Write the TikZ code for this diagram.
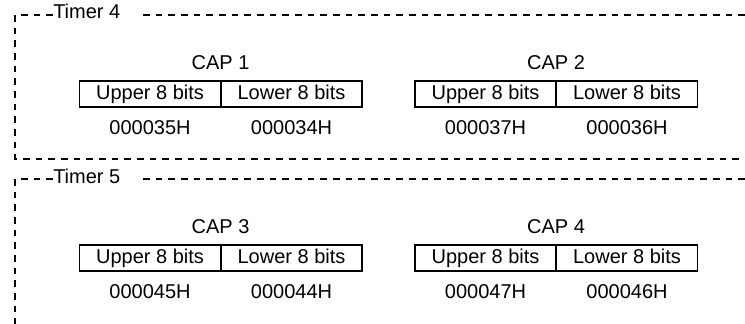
\documentclass[tikz,border=0pt]{standalone}
\usepackage{fontspec}
\setmainfont{Liberation Sans}
\usepackage{tikz}
\usetikzlibrary{calc}

\begin{document}
\begin{tikzpicture}[x=0.75pt,y=-0.75pt]
  \tikzset{framedash/.style={draw=black,line width=0.9pt,dash pattern=on 5pt off 4.5pt}}
  \tikzset{regcell/.style={draw=black,line width=1.4pt,minimum width=105.75pt,minimum height=19.5pt,inner sep=0pt,text height=10.8pt,text depth=3.2pt,font=\fontsize{15}{18}\selectfont}}
  \tikzset{caplabel/.style={inner sep=0pt,font=\fontsize{15}{18}\selectfont}}
  \tikzset{timerlabel/.style={anchor=base west,inner sep=0pt,font=\fontsize{15}{18}\selectfont}}

  \useasboundingbox (0,0) rectangle (745,324);

  % Timer 4 frame
  \coordinate (t4tl) at (15,15);
  \coordinate (t4bl) at (15,159);
  \coordinate (t4tr) at (745,15);
  \coordinate (t4br) at (745,159);
  \coordinate (t4gap) at (143,15);
  \node[timerlabel] (t4lbl) at (53,19) {Timer 4};
  \draw[framedash] (t4lbl.west |- t4tl) -- (t4tl) -- (t4bl) -- (t4br);
  \draw[framedash] (t4gap) -- (t4tr);

  % Timer 5 frame
  \coordinate (t5tl) at (15,179);
  \coordinate (t5bl) at (15,324);
  \coordinate (t5tr) at (745,179);
  \coordinate (t5gap) at (143,179);
  \node[timerlabel] (t5lbl) at (53,183) {Timer 5};
  \draw[framedash] (t5lbl.west |- t5tl) -- (t5tl) -- (t5bl);
  \draw[framedash] (t5gap) -- (t5tr);

  % CAP 1
  \node[caplabel] (cap1) at (220.5,63) {CAP 1};
  \node[regcell] (cap1u) at (150,94) {Upper 8 bits};
  \node[regcell] (cap1l) at (291.5,94) {Lower 8 bits};
  \node[caplabel] (cap1ua) at (150,128) {000035H};
  \node[caplabel] (cap1la) at (291.5,128) {000034H};

  % CAP 2
  \node[caplabel] (cap2) at (556,63) {CAP 2};
  \node[regcell] (cap2u) at (485.5,94) {Upper 8 bits};
  \node[regcell] (cap2l) at (627,94) {Lower 8 bits};
  \node[caplabel] (cap2ua) at (485.5,128) {000037H};
  \node[caplabel] (cap2la) at (627,128) {000036H};

  % CAP 3
  \node[caplabel] (cap3) at (220.5,227) {CAP 3};
  \node[regcell] (cap3u) at (150,258) {Upper 8 bits};
  \node[regcell] (cap3l) at (291.5,258) {Lower 8 bits};
  \node[caplabel] (cap3ua) at (150,292) {000045H};
  \node[caplabel] (cap3la) at (291.5,292) {000044H};

  % CAP 4
  \node[caplabel] (cap4) at (556,227) {CAP 4};
  \node[regcell] (cap4u) at (485.5,258) {Upper 8 bits};
  \node[regcell] (cap4l) at (627,258) {Lower 8 bits};
  \node[caplabel] (cap4ua) at (485.5,292) {000047H};
  \node[caplabel] (cap4la) at (627,292) {000046H};
\end{tikzpicture}
\end{document}
